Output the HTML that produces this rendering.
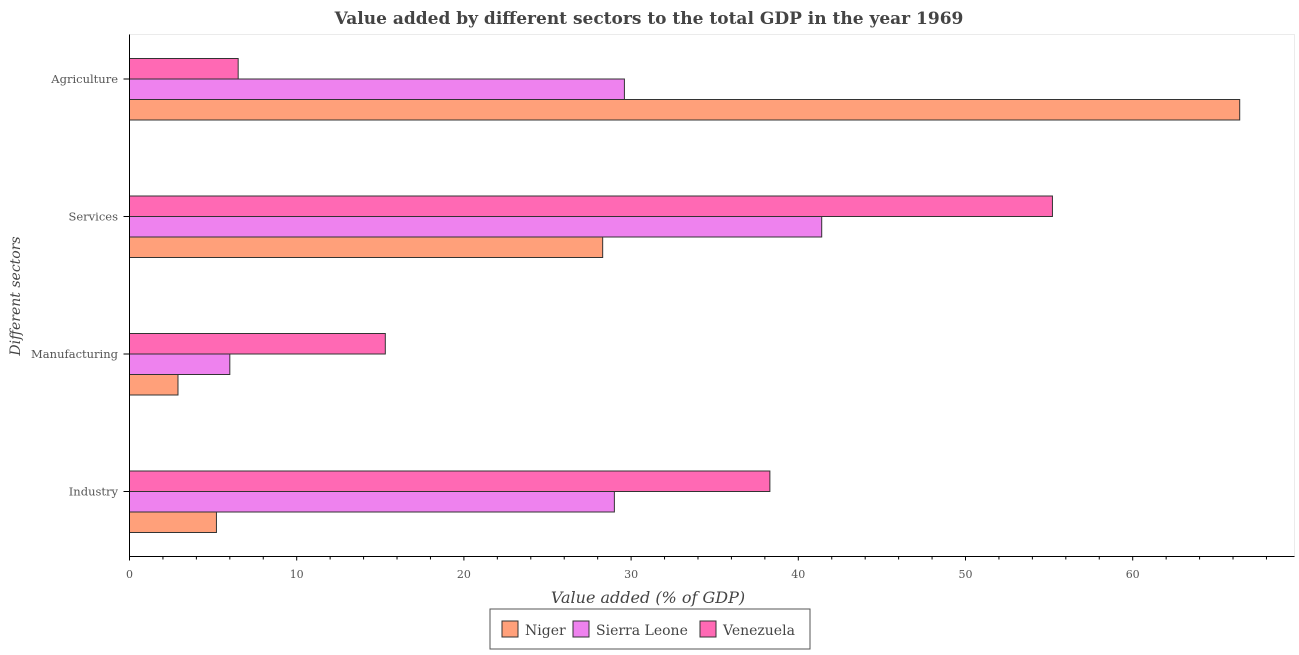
<!DOCTYPE html>
<html><head><meta charset="utf-8"><style>
body{margin:0;background:#fff;}
svg text{font-family:"DejaVu Serif","Liberation Serif",serif;}
</style></head><body>
<svg id="chart" width="1299" height="650" xmlns="http://www.w3.org/2000/svg">
<text x="649" y="24" text-anchor="middle" font-size="17" font-weight="bold" fill="#444">Value added by different sectors to the total GDP in the year 1969</text>
<rect x="129.5" y="34.5" width="1165" height="522" fill="#fff" stroke="#ebebeb" stroke-width="1"/>
<g id="bars"></g>
<g id="axes"></g>
<text x="648" y="603" text-anchor="middle" font-size="16" font-style="italic" fill="#444">Value added (% of GDP)</text>
<text transform="translate(20,296) rotate(-90)" text-anchor="middle" font-size="14" font-style="italic" fill="#444">Different sectors</text>
<g>
<rect x="490" y="609" width="320" height="40" fill="#fff" stroke="#555" stroke-width="1"/>
<rect x="502" y="621" width="16" height="16" fill="#ffa07a" stroke="#333"/>
<text x="525" y="635" font-size="14" fill="#444">Niger</text>
<rect x="573" y="621" width="16" height="16" fill="#ee82ee" stroke="#333"/>
<text x="596" y="635" font-size="14" fill="#444">Sierra Leone</text>
<rect x="700" y="621" width="16" height="16" fill="#ff69b4" stroke="#333"/>
<text x="723" y="635" font-size="14" fill="#444">Venezuela</text>
</g>
</svg>
<script>
const categories = ["Agriculture","Services","Manufacturing","Industry"];
const niger = [66.4, 28.3, 2.9, 5.2];
const sierraLeone = [29.6, 41.4, 6.0, 29.0];
const venezuela = [6.5, 55.2, 15.3, 38.3];
const xTicks = [0,10,20,30,40,50,60];

const NS="http://www.w3.org/2000/svg";
const x0=129.5, pxPerUnit=16.72;
function xs(v){return x0+v*pxPerUnit;}
function yc(i){return 79+i*137.5;}
const bh=20.5;
const bars=document.getElementById('bars');
const axes=document.getElementById('axes');
const series=[{vals:venezuela,color:"#ff69b4",off:-1,key:"venezuela"},{vals:sierraLeone,color:"#ee82ee",off:0,key:"sierra-leone"},{vals:niger,color:"#ffa07a",off:1,key:"niger"}];
series.forEach(s=>{
  s.vals.forEach((v,i)=>{
    const r=document.createElementNS(NS,'rect');
    r.setAttribute('x',xs(0));
    r.setAttribute('y',yc(i)+(s.off-0.5)*bh+ (s.off===-1?0:0));
    r.setAttribute('width',xs(v)-xs(0));
    r.setAttribute('height',bh);
    r.setAttribute('fill',s.color);
    r.setAttribute('stroke','#333');
    r.setAttribute('stroke-width','1');
    
    
    bars.appendChild(r);
  });
});
// fix y positions: venezuela top, sierra leone middle, niger bottom
Array.from(bars.children).forEach((r,k)=>{
  const si=Math.floor(k/categories.length), i=k%categories.length;
  r.setAttribute('y', yc(i)-bh + si*bh);
});
function line(x1,y1,x2,y2,name){
  const l=document.createElementNS(NS,'line');
  l.setAttribute('x1',x1);l.setAttribute('y1',y1);l.setAttribute('x2',x2);l.setAttribute('y2',y2);
  l.setAttribute('stroke','#000');l.setAttribute('stroke-width','1');
  
  
  axes.appendChild(l);
}
line(129.5,34.5,129.5,556.5,'y-axis-line');
line(129.5,556.5,1294.5,556.5,'x-axis-line');
for(let v=0; v<=68; v+=2){
  const major=v%10===0;
  line(xs(v),556.5,xs(v),556.5+(major?4:3),major?'x-major-tick':'x-minor-tick');
}
xTicks.forEach(v=>{
  const t=document.createElementNS(NS,'text');
  t.setAttribute('x',xs(v));t.setAttribute('y',578);
  t.setAttribute('text-anchor','middle');t.setAttribute('font-size','11');t.setAttribute('fill','#555');
  t.textContent=v;
  
  
  axes.appendChild(t);
});
categories.forEach((c,i)=>{
  line(123.5,yc(i),129.5,yc(i),'y-tick');
  const t=document.createElementNS(NS,'text');
  t.setAttribute('x',118);t.setAttribute('y',yc(i)+4);
  t.setAttribute('text-anchor','end');t.setAttribute('font-size','11.5');t.setAttribute('fill','#555');
  t.textContent=c;
  
  
  axes.appendChild(t);
});
</script>
</body></html>
